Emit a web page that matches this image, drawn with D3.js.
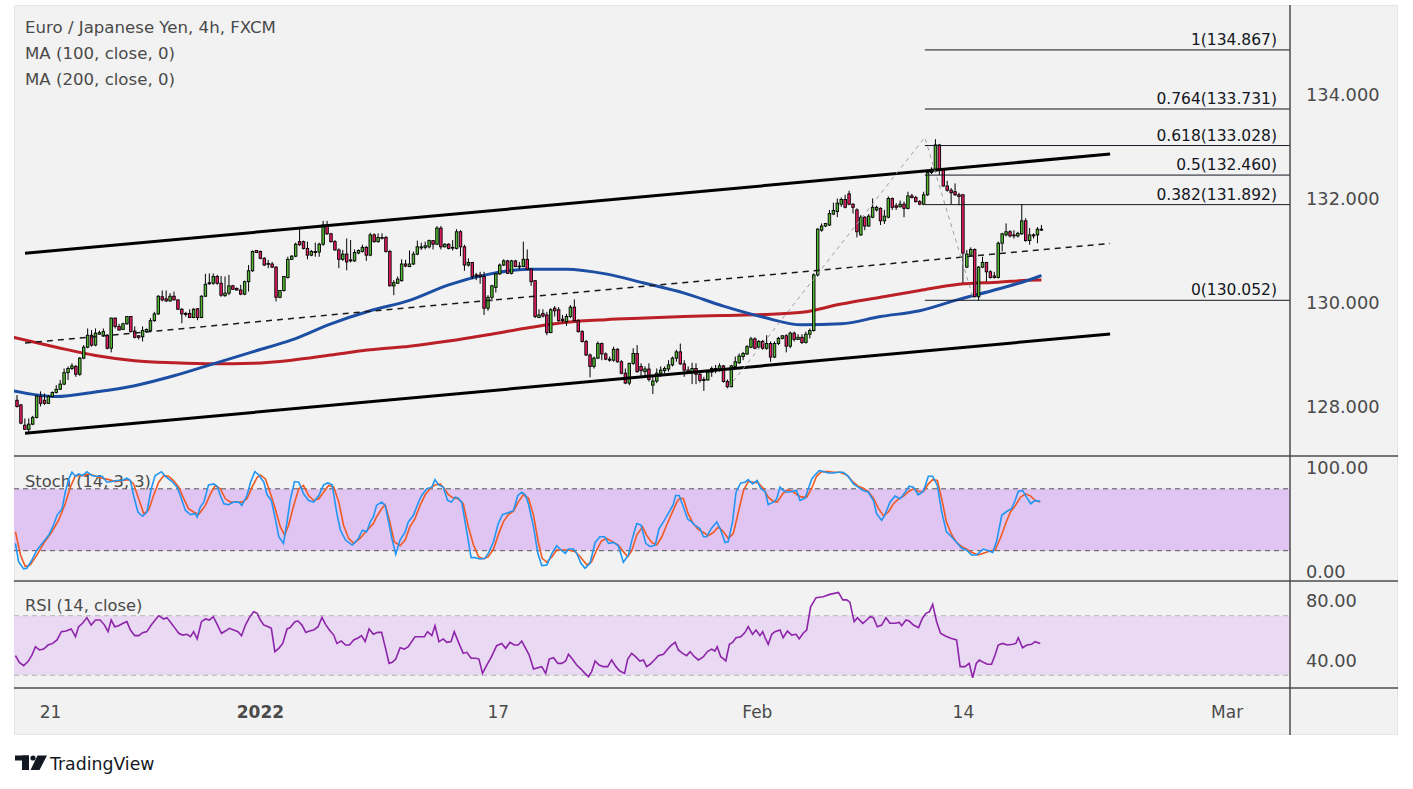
<!DOCTYPE html>
<html>
<head>
<meta charset="utf-8">
<script src="https://cdn.jsdelivr.net/npm/d3@7"></script>
<style>
	body { margin: 0; background: #ffffff; }
	svg { display: block; font-family: "DejaVu Sans", sans-serif; }
</style>
</head>
<body>
<svg id="chart" width="1413" height="789" viewBox="0 0 1413 789"></svg>
<script>

// 4h candles, bar 1 .. 262
const opens = [128.13,128.04,127.65,127.57,127.67,127.80,128.20,128.13,128.07,128.20,
	128.28,128.34,128.44,128.66,128.74,128.78,128.63,128.94,129.15,129.38,
	129.19,129.40,129.38,129.38,129.13,129.71,129.55,129.49,129.60,129.74,
	129.46,129.37,129.35,129.45,129.47,129.66,129.79,130.12,130.08,130.04,
	130.13,130.06,129.88,129.80,129.80,129.72,129.89,129.72,130.13,130.39,
	130.38,130.51,130.38,130.14,130.19,130.33,130.28,130.25,130.17,130.41,
	130.62,131.01,130.99,130.86,130.76,130.75,130.69,130.11,130.24,130.49,
	130.84,130.90,131.18,131.18,131.05,130.92,130.97,130.98,131.13,131.50,
	131.33,131.18,131.02,130.84,130.94,130.83,130.81,130.96,130.99,131.07,
	130.92,131.31,131.18,131.26,131.26,130.99,130.33,130.38,130.43,130.75,
	130.70,130.75,130.94,131.06,131.07,131.08,131.20,131.13,131.44,131.08,
	131.13,131.07,131.05,131.37,131.08,130.73,130.78,130.54,130.54,130.51,
	129.90,130.11,130.30,130.56,130.73,130.81,130.57,130.81,130.71,130.70,
	130.84,130.65,130.43,129.72,129.80,129.77,129.43,129.90,129.87,129.69,
	129.64,129.74,129.92,129.66,129.45,129.26,129.00,128.78,128.94,129.22,
	129.02,128.92,128.90,129.11,128.87,128.65,128.46,128.84,129.03,128.78,
	128.68,128.73,128.42,128.50,128.65,128.70,128.73,128.81,128.94,129.06,
	128.83,128.71,128.66,128.74,128.63,128.53,128.52,128.67,128.74,128.73,
	128.79,128.49,128.39,128.78,128.85,128.97,129.02,129.15,129.31,129.15,
	129.26,129.13,129.22,128.96,129.22,129.32,129.37,129.17,129.42,129.30,
	129.34,129.24,129.40,129.47,130.54,131.40,131.48,131.50,131.71,131.76,
	131.90,131.99,132.10,131.90,131.79,131.31,131.65,131.48,131.65,131.79,
	131.82,131.58,131.65,132.01,131.87,131.85,131.90,131.82,132.06,132.03,
	131.95,131.90,132.08,132.51,132.54,133.04,132.57,132.25,132.17,132.14,
	132.08,132.08,130.69,130.92,131.03,130.12,130.69,130.78,130.60,130.52,
	130.49,131.15,131.31,131.37,131.31,131.29,131.33,131.58,131.20,131.31,
	131.31,131.40];

const highs = [128.23,128.06,127.78,127.78,127.83,128.23,128.30,128.26,128.23,128.30,
	128.42,128.52,128.74,128.78,128.84,128.81,128.96,129.19,129.51,129.48,
	129.51,129.47,129.51,129.40,129.72,129.72,129.60,129.62,129.75,129.75,
	129.55,129.38,129.55,129.51,129.71,129.83,130.15,130.24,130.24,130.19,
	130.22,130.07,129.90,129.83,129.88,129.90,129.90,130.15,130.56,130.57,
	130.57,130.54,130.52,130.51,130.54,130.35,130.30,130.35,130.43,130.73,
	131.01,131.02,131.01,130.88,130.83,130.79,130.71,130.25,130.52,130.89,
	130.92,131.16,131.46,131.20,131.18,131.02,131.16,131.16,131.58,131.58,
	131.35,131.21,131.05,131.02,131.24,131.21,131.03,131.03,131.12,131.10,
	131.35,131.34,131.34,131.34,131.29,131.02,130.44,130.51,130.84,130.83,
	131.01,130.99,131.20,131.16,131.18,131.22,131.21,131.48,131.48,131.15,
	131.15,131.21,131.42,131.40,131.12,130.86,130.79,130.58,130.60,130.60,
	130.15,130.35,130.58,130.76,130.84,130.83,130.83,130.83,130.79,131.18,
	131.03,130.67,130.44,129.88,129.88,129.83,129.90,129.94,129.92,129.77,
	129.79,129.96,130.07,129.69,129.48,129.29,129.03,128.97,129.26,129.24,
	129.05,128.97,129.16,129.13,128.90,128.74,128.85,129.13,129.19,128.84,
	128.78,128.84,128.58,128.74,128.78,128.78,128.90,128.97,129.10,129.22,
	128.90,128.78,128.85,128.84,128.68,128.58,128.71,128.78,128.81,128.84,
	128.81,128.53,128.81,128.97,129.03,129.06,129.19,129.35,129.34,129.29,
	129.29,129.38,129.26,129.26,129.35,129.38,129.40,129.45,129.45,129.40,
	129.40,129.45,129.51,130.57,131.44,131.53,131.54,131.79,131.93,132.01,
	132.03,132.08,132.16,131.92,131.82,131.69,131.67,131.71,132.01,131.87,
	131.84,131.79,132.05,132.03,131.92,131.97,131.95,132.14,132.10,132.06,
	131.98,132.14,132.56,132.61,133.15,133.06,132.59,132.35,132.21,132.30,
	132.12,132.10,131.02,131.07,131.05,130.71,130.89,130.79,130.63,130.60,
	131.18,131.35,131.53,131.40,131.40,131.37,131.90,131.63,131.44,131.34,
	131.46,131.50];

const lows = [127.99,127.67,127.56,127.51,127.65,127.78,128.01,128.04,128.06,128.19,
	128.26,128.33,128.42,128.52,128.71,128.58,128.60,128.92,129.13,129.16,
	129.17,129.39,129.35,129.11,129.05,129.51,129.47,129.48,129.58,129.43,
	129.32,129.30,129.26,129.43,129.45,129.64,129.77,130.03,130.02,130.02,
	130.05,129.87,129.61,129.74,129.71,129.71,129.67,129.71,130.12,130.35,
	130.35,130.35,130.12,130.12,130.15,130.25,130.24,130.15,130.15,130.22,
	130.60,130.96,130.84,130.71,130.67,130.67,130.03,130.09,130.22,130.47,
	130.83,130.88,131.10,131.03,130.84,130.90,130.89,130.89,131.10,131.31,
	131.16,131.01,130.67,130.81,130.63,130.78,130.79,130.94,130.97,130.81,
	130.90,131.16,131.16,131.22,130.97,130.32,130.15,130.37,130.41,130.69,
	130.69,130.73,130.92,131.02,131.03,131.05,131.03,131.12,131.03,131.07,
	131.03,131.01,131.03,130.90,130.62,130.70,130.46,130.44,130.37,129.77,
	129.85,130.03,130.20,130.54,130.71,130.56,130.55,130.69,130.65,130.69,
	130.63,130.33,129.71,129.71,129.72,129.38,129.42,129.74,129.64,129.62,
	129.56,129.71,129.64,129.43,129.24,128.98,128.57,128.74,128.92,128.90,
	128.90,128.87,128.87,128.85,128.63,128.44,128.42,128.81,128.66,128.58,
	128.58,128.49,128.25,128.46,128.58,128.65,128.68,128.78,128.87,128.81,
	128.58,128.65,128.44,128.44,128.47,128.31,128.51,128.58,128.65,128.68,
	128.47,128.36,128.38,128.74,128.83,128.90,129.00,129.13,129.11,129.13,
	129.10,129.10,128.87,128.94,129.19,129.30,129.05,129.13,129.26,129.29,
	129.21,129.22,129.32,129.45,130.51,131.37,131.46,131.48,131.69,131.65,
	131.85,131.82,131.88,131.72,131.26,131.29,131.40,131.47,131.63,131.76,
	131.50,131.52,131.63,131.79,131.79,131.84,131.65,131.80,132.01,131.93,
	131.88,131.88,132.06,132.48,132.53,132.46,132.24,132.14,131.90,132.06,
	131.88,130.39,130.67,130.89,130.11,130.04,130.67,130.41,130.47,130.47,
	130.47,130.99,131.28,131.26,131.24,131.26,131.31,131.18,131.12,131.24,
	131.15,131.39];

const closes = [128.01,127.69,127.57,127.67,127.80,128.21,128.07,128.07,128.20,128.28,
	128.34,128.44,128.66,128.74,128.79,128.63,128.94,129.15,129.38,129.19,
	129.42,129.43,129.45,129.13,129.71,129.55,129.48,129.60,129.74,129.45,
	129.34,129.34,129.47,129.49,129.66,129.79,130.13,130.06,130.04,130.13,
	130.06,129.88,129.79,129.78,129.72,129.88,129.72,130.13,130.36,130.37,
	130.51,130.38,130.15,130.19,130.33,130.26,130.25,130.17,130.41,130.62,
	130.99,130.97,130.86,130.73,130.75,130.69,130.11,130.24,130.51,130.84,
	130.90,131.13,131.12,131.05,130.92,130.99,130.99,131.13,131.50,131.33,
	131.18,131.02,130.84,130.94,130.79,130.81,130.97,131.01,131.07,130.92,
	131.31,131.18,131.26,131.25,130.99,130.33,130.39,130.46,130.75,130.71,
	130.75,130.94,131.08,131.08,131.10,131.20,131.13,131.44,131.08,131.13,
	131.05,131.06,131.37,131.08,130.73,130.78,130.51,130.52,130.51,129.90,
	130.11,130.33,130.56,130.73,130.81,130.57,130.81,130.70,130.70,130.84,
	130.65,130.41,129.74,129.77,129.75,129.43,129.87,129.85,129.66,129.66,
	129.74,129.92,129.66,129.45,129.26,129.00,128.78,128.94,129.22,129.02,
	128.92,128.90,129.11,128.87,128.65,128.46,128.84,129.03,128.68,128.70,
	128.73,128.53,128.50,128.65,128.71,128.74,128.81,128.94,129.06,128.83,
	128.71,128.68,128.74,128.63,128.51,128.51,128.67,128.74,128.71,128.79,
	128.49,128.39,128.79,128.87,128.98,129.03,129.16,129.31,129.13,129.26,
	129.13,129.22,128.96,129.22,129.32,129.37,129.17,129.42,129.30,129.34,
	129.24,129.40,129.47,130.54,131.42,131.48,131.53,131.72,131.78,131.92,
	131.99,131.84,131.90,131.84,131.37,131.65,131.48,131.67,131.84,131.84,
	131.58,131.67,132.01,131.84,131.84,131.90,131.82,132.06,132.03,131.95,
	131.90,132.08,132.51,132.57,133.04,132.57,132.25,132.17,132.12,132.08,
	132.05,130.96,130.94,131.03,130.12,130.69,130.78,130.60,130.49,130.49,
	131.15,131.33,131.37,131.29,131.29,131.34,131.58,131.20,131.31,131.29,
	131.42,131.42];

// moving averages, sampled every 10 bars
const maBars = [0, 11, 21, 31, 41, 51, 61, 71, 81, 91, 101, 111, 121, 131, 141, 151, 161, 171, 181, 191, 201, 211, 221, 231, 241, 251, 261, 262];
const ma100 = [128.31, 128.20, 128.29, 128.41, 128.60, 128.83, 129.06, 129.29, 129.60, 129.85, 130.05, 130.35, 130.55, 130.65, 130.65, 130.56, 130.38, 130.19, 129.94, 129.73, 129.58, 129.60, 129.74, 129.85, 130.07, 130.27, 130.50, 130.53];
const ma200 = [129.34, 129.15, 128.99, 128.89, 128.85, 128.83, 128.84, 128.90, 129.00, 129.10, 129.17, 129.27, 129.39, 129.52, 129.63, 129.68, 129.71, 129.74, 129.76, 129.78, 129.82, 129.98, 130.11, 130.24, 130.36, 130.40, 130.44, 130.44];

// [bar, value]
const stochK = [[0.6,27.1],[1.4,9.4],[2.7,2.4],[3.5,3],[4.8,11],[6.1,20.7],[7.4,27.1],[9.1,35.1],[10.3,44.7],[11.2,54.3],[12.5,60.7],[13.3,76.7],[14.2,89.6],[15.0,96],[15.9,92.1],[16.7,94.4],[17.7,92.8],[18.8,96.6],[20.1,92.8],[21.4,92.1],[22.7,92.1],[23.9,86.4],[25.2,87],[26.5,88],[27.8,88],[29.0,90.2],[29.9,88],[30.7,73.5],[31.8,57.5],[33.0,53.4],[34.1,57.5],[35.2,80],[36.2,92.8],[37.8,96.6],[38.8,92.1],[40.5,87],[41.8,81.6],[42.6,73.5],[43.9,59.1],[45.2,55],[46.4,55.9],[46.9,52.7],[47.7,62.3],[48.6,67.1],[49.8,83.8],[51.1,84.8],[52.0,82.5],[52.8,73.5],[53.7,65.5],[54.9,64.6],[56.2,67.1],[57.5,67.1],[58.3,63.9],[59.6,73.5],[60.5,86.4],[61.6,96.6],[62.6,93.4],[63.9,86.4],[64.7,74.2],[65.8,68.7],[66.8,51.1],[67.7,33.5],[68.9,27.1],[69.8,47.9],[70.6,68.7],[71.7,87],[72.8,86.4],[74.0,75.1],[75.3,68.7],[76.6,67.1],[77.9,73.5],[79.1,83.8],[80.2,85.7],[81.3,83.8],[82.5,55.9],[83.4,39.9],[84.7,30.3],[86.4,25.5],
	[87.1,28],[88.0,31.9],[89.0,39.9],[90.1,38.3],[91.0,47.9],[91.8,52.7],[92.6,63.9],[93.9,67.1],[94.8,63.9],[95.6,49.5],[96.5,31.9],[97.5,16.5],[98.6,30.3],[99.9,38.3],[100.7,47.9],[102.0,54.3],[103.3,67.1],[104.1,73.5],[105.4,80],[106.7,81.6],[107.5,88.9],[108.4,83.8],[109.6,81.6],[110.7,68.7],[111.7,67.1],[112.6,71.9],[113.4,71],[114.3,67.1],[115.6,38.3],[116.7,13.3],[117.7,13.3],[119.0,12],[120.2,12.6],[121.1,17.5],[122.4,28.7],[123.6,46.3],[124.7,55],[126.2,56.9],[127.5,59.1],[128.6,73.5],[129.6,76.7],[130.5,74.2],[131.3,65.5],[132.6,43.1],[133.7,17.5],[134.7,5.6],[136.0,6.2],[137.3,17.5],[138.5,24.8],[139.6,20.7],[140.7,17.5],[141.5,21.6],[142.8,21.6],[143.6,17.5],[144.7,7.8],[145.7,3],[147.0,7.8],[148.3,28],[149.5,33.5],[150.7,33.5],[151.7,27.1],[153.0,28],[154.2,24.8],[155.5,8.8],[156.8,15.9],[157.6,29.3],[158.9,46.3],[160.0,44.7],[161.2,27.1],[162.3,23.9],[163.6,25.5],[164.6,41.5],[165.7,47.9],[166.9,55.9],[168.2,64.6],[168.8,73.5],[169.7,73.5],[170.8,62.3],[171.9,50.5],[172.9,47.9],[173.7,44.7],
	[175.0,41.5],[175.9,33.5],[176.7,33.5],[178.0,42.1],[179.3,47.9],[180.3,39.9],[181.4,28],[182.2,28.7],[183.3,47.9],[184.2,76.7],[185.4,85.7],[186.5,86.4],[187.3,88.9],[188.4,84.8],[189.6,88],[190.5,80],[191.6,77.4],[192.4,64.6],[193.7,67.1],[194.5,69.7],[195.4,81.6],[196.2,78.4],[197.3,76.7],[198.4,77.4],[199.6,78.4],[200.5,68.7],[201.8,71],[202.6,80],[203.5,89.6],[204.3,93.4],[205.4,97.6],[206.6,96.6],[207.7,95.3],[209.0,95.3],[210.3,96],[211.5,96],[212.8,92.1],[214.1,84.8],[215.3,81.6],[216.6,78.4],[217.9,76.7],[219.2,68.7],[220.0,55.9],[221.3,49.5],[222.1,54.3],[223.4,67.1],[224.7,72.9],[226.0,70.3],[227.2,76.1],[228.3,82.5],[229.4,81.6],[230.6,74.2],[231.9,77.4],[233.2,92.1],[234.3,92.1],[235.5,83.2],[236.6,57.5],[237.8,38.3],[239.1,33.5],[240.4,28],[241.7,22.3],[242.9,20.7],[244.2,15.9],[245.5,15.9],[247.2,21.6],[248.5,20],[249.6,18.4],[250.6,29.3],[251.9,54.3],[253.2,58.2],[254.4,60.7],[255.3,68.7],[256.1,77.4],[257.2,78.4],[258.2,71.9],[259.3,65.5],[260.4,68.7],[261.7,67.8]];

const stochD = [[0.6,38.3],[1.9,15.9],[3.1,4.6],[4.4,6.2],[6.1,15.9],[7.8,27.1],[9.9,38.3],[11.6,49.5],[13.3,65.5],[14.6,81.6],[15.9,92.8],[17.6,92.8],[19.3,94.4],[21.0,92.1],[22.7,90.2],[24.4,88.9],[26.1,87],[27.8,88],[29.5,88.9],[30.7,84.8],[32.0,70.3],[33.3,55.9],[34.5,59.1],[35.8,73.5],[37.1,86.4],[38.4,92.8],[39.6,92.1],[40.9,88],[42.2,81.6],[43.5,70.3],[44.7,60.7],[46.0,57.5],[47.3,55],[49.0,63.9],[50.3,75.1],[51.5,83.2],[52.8,80],[54.1,70.3],[55.4,67.1],[56.6,67.1],[58.3,67.1],[59.6,70.3],[60.9,81.6],[62.2,91.2],[63.0,93.4],[64.3,89.6],[65.6,75.1],[66.8,60.7],[68.1,43.1],[69.2,35.1],[70.2,44.7],[71.5,63.9],[72.8,80],[74.0,83.2],[75.3,73.5],[76.6,68.7],[77.9,70.3],[79.1,76.7],[80.4,83.2],[81.7,81.6],[83.0,67.1],[84.2,44.7],[85.5,31.9],[86.8,27.1],
	[88.4,31.9],[89.7,37.6],[91.0,43.1],[91.8,46.3],[92.6,52.7],[93.9,60.7],[94.8,64.6],[96.0,47.9],[97.1,28.7],[98.6,24.8],[99.9,30.3],[101.1,43.1],[102.4,51.1],[103.7,63.9],[105.0,74.2],[106.2,80],[107.5,83.8],[108.8,84.8],[109.9,80],[110.9,74.2],[112.2,71],[113.4,70.3],[114.7,65.5],[116.0,43.1],[117.3,25.5],[118.6,14.2],[119.8,12],[121.1,14.2],[122.4,21.6],[123.6,35.1],[124.9,47.9],[126.2,55],[127.5,58.2],[128.7,67.1],[130.0,74.2],[131.3,71],[132.6,54.3],[133.8,28.7],[134.8,12.6],[136.0,8.8],[137.3,14.2],[138.5,20.7],[139.8,20.7],[141.5,20.7],[143.2,19.1],[144.5,14.2],[146.2,6.2],[147.4,9.4],[148.7,20.7],[149.9,29.3],[151.2,31.9],[152.5,29.3],[154.2,25.5],[155.5,19.1],[156.6,14.2],[157.6,19.7],[158.9,35.1],[160.4,43.1],[161.4,35.1],[162.7,28],[164.0,25.5],[165.3,33.5],[166.5,44.7],[167.8,55.9],[169.1,67.1],[169.9,71],[170.8,70.3],[172.0,55.9],[173.3,46.3],[174.5,40.8],
	[176.3,36.7],[177.1,34.4],[178.4,37.6],[179.7,43.1],[180.9,38.9],[182.2,31.9],[183.5,36.7],[184.8,57.5],[186.1,78.4],[187.3,87],[188.6,86.4],[189.9,85.7],[191.2,80],[192.4,71.9],[193.7,67.8],[194.7,67.1],[196.1,75.1],[197.3,79],[198.6,77.4],[199.8,74.2],[200.9,71.9],[202.2,71.9],[203.5,80.6],[204.7,92.1],[206.0,96.6],[207.7,96.6],[209.0,96],[210.7,96],[212.4,93.4],[213.9,87],[215.3,82.5],[216.6,80.6],[217.9,77.4],[219.2,71],[220.5,60.7],[221.8,53.7],[223.0,57.5],[224.3,65.5],[225.6,70.3],[226.9,72.9],[228.2,77.4],[229.4,80],[230.7,77.4],[232.0,77.4],[233.2,84.8],[234.3,88.9],[235.5,88],[236.6,70.3],[237.8,47.9],[239.1,35.7],[240.4,28],[241.7,23.9],[242.9,21.6],[244.2,18.4],[245.9,15.9],[247.2,17.5],[248.9,19.7],[250.2,20.7],[251.6,32.5],[252.9,46.3],[254.1,57.5],[255.4,63.9],[256.7,71.9],[258.0,75.1],[259.3,72.9],[260.4,68.7],[261.7,67.1]];

const rsi = [[0.6,43.2],[1.6,38.7],[2.7,36.5],[3.8,39.2],[4.8,43.6],[5.7,49.2],[6.7,47],[7.8,47.6],[8.9,50.3],[10.1,51.4],[11.2,53.7],[12.3,59.3],[13.5,59.7],[14.8,61.1],[15.9,55.9],[16.7,62.6],[17.7,64.9],[18.8,68.7],[19.9,63.7],[21.0,67.1],[22.2,67.1],[23.3,63.7],[24.2,59.3],[25.0,67.1],[25.9,62.6],[26.9,63.3],[28.0,64.9],[29.0,66],[29.9,60.4],[31.0,56.6],[32.0,56.6],[33.0,58.6],[34.1,59.3],[35.2,63.7],[36.2,67.1],[37.1,70],[38.4,67.8],[39.2,68.7],[40.3,64.9],[41.3,61.5],[42.2,58.2],[43.2,57],[44.3,57.5],[45.2,55.9],[46.0,59.3],[46.9,54.4],[48.0,66],[49.0,67.8],[50.0,67.1],[51.0,69.3],[52.0,64.2],[53.1,58.2],[54.1,59.7],[55.1,61.5],[56.2,60.4],[57.3,59.3],[58.2,56.6],[59.2,63.7],[60.2,68.7],[61.3,72.7],[62.2,71.6],[63.0,67.1],[63.9,63.7],[65.0,62.6],[65.8,61.5],[66.7,45.9],[67.7,48.1],[68.7,51.4],[69.8,61.1],[70.6,62],[71.8,66],[72.6,66.4],[73.6,63.7],[74.6,58.8],[75.5,59.7],[76.6,60.4],[77.7,62.6],[78.7,68.9],[79.6,64.2],[80.6,60.4],[81.7,57],[82.5,51.4],[83.6,53],[84.7,50.3],[85.7,50.3],[86.8,53.7],
	[88.0,55.2],[88.8,56.6],[89.7,52.6],[90.7,61.1],[91.8,57.5],[92.9,58.8],[93.9,58.8],[94.9,48.1],[95.8,38],[96.6,38.7],[97.5,40.9],[98.6,48.5],[99.7,47.6],[100.7,49.2],[102.4,55.9],[103.7,55.9],[104.8,55.9],[105.6,59.3],[106.7,56.6],[107.5,63.3],[108.5,52.6],[109.6,54.4],[110.5,52.1],[111.6,52.6],[112.4,59.3],[113.6,51.4],[114.7,44.7],[115.6,45.4],[116.7,41.4],[117.9,41.4],[118.7,40.9],[119.6,31.3],[120.7,36.9],[121.9,42.5],[123.2,49.9],[124.5,51.4],[125.5,48.1],[126.6,52.1],[127.7,50.3],[128.7,50.3],[129.6,53],[130.6,48.1],[131.5,43.6],[132.6,34.2],[133.7,35.1],[134.7,35.8],[135.7,31.3],[136.6,40.9],[137.7,41.8],[138.8,38],[139.8,38],[140.8,39.6],[141.5,44.1],[142.5,40.9],[143.6,36.9],[144.7,34.2],[145.7,31.3],[146.6,29.1],[147.4,32.5],[148.3,39.6],[149.3,36.9],[150.4,35.8],[151.5,35.8],[152.5,40.3],[153.6,35.8],[154.6,32.9],[155.8,31.3],[156.6,40.9],[157.6,44.7],[158.6,42.5],[159.7,39.6],[160.6,40.3],[161.4,35.8],[162.3,37.4],[163.4,40.3],[164.4,43.2],[165.7,44.1],[166.8,47.6],[167.6,49.9],[168.7,52.1],[169.5,47],[170.6,44.7],[171.6,43.2],[172.5,45.9],[173.6,42.5],[174.6,40.3],
	[175.0,40.9],[175.9,42.5],[176.9,45.9],[178.0,47.6],[178.8,46.3],[179.4,49.2],[180.3,42.5],[181.1,40.9],[181.6,39.6],[182.5,50.8],[183.3,52.1],[184.2,55.2],[185.4,55.9],[186.5,58.8],[187.3,62.6],[188.4,57.5],[189.3,60.4],[190.3,56.6],[191.0,59.3],[191.6,55.2],[192.4,50.8],[193.3,57.5],[194.1,59.3],[195.4,60.4],[196.2,55.2],[197.3,59.7],[198.4,57],[199.5,57.5],[200.3,54.4],[201.3,58.2],[202.2,60.4],[203.2,76],[204.6,82.1],[206.4,82.7],[208.1,84.3],[210.3,85.6],[211.4,80.6],[212.4,80.6],[213.2,79.1],[214.3,66],[215.1,68.7],[216.5,64.9],[217.5,67.1],[218.4,69.3],[219.2,68.7],[220.2,62.6],[221.3,63.7],[222.4,68.7],[223.4,64.9],[224.7,64.9],[225.8,65.5],[226.4,63.3],[227.5,67.1],[228.3,66.4],[229.4,63.7],[230.7,62],[231.7,68.3],[232.6,71.6],[233.5,72.7],[234.3,77.6],[235.3,66],[236.3,58.2],[237.4,56.6],[238.9,54.8],[240.4,53.7],[241.3,35.8],[242.5,35.8],[243.6,38],[244.5,28.4],[245.4,38],[246.2,40.3],[247.2,38.7],[248.2,37.4],[249.3,37.4],[250.2,43.6],[251.0,50.3],[252.1,51.4],[253.3,50.3],[254.7,50.8],[255.5,51.4],[256.1,55.2],[257.2,48.5],[258.3,50.3],[259.5,50.8],[260.4,52.6],[261.7,51.4]];

// drawings: [bar, price]
const channelTop = [[3.04, 130.956], [279.5, 132.865]];
const channelBottom = [[3.04, 127.494], [279.5, 129.404]];
const channelMid = [[3.04, 129.231], [279.5, 131.144]];
const fibPoints = [[182.2, 128.37], [232.3, 133.185], [244.8, 130.052]];
const fibRatios = ["1", "0.764", "0.618", "0.5", "0.382", "0"];
const fibLevels = [134.867, 133.731, 133.028, 132.460, 131.892, 130.052];

// axes
const priceTicks = [128, 130, 132, 134];
const stochTicks = [0, 100];
const rsiTicks = [40, 80];
const timeTickBars = [9.4, 62.9, 123.5, 189.5, 242, 309.2];
const timeLabels = ["21", "2022", "17", "Feb", "14", "Mar"];
const legendLines = ["Euro / Japanese Yen, 4h, FXCM", "MA (100, close, 0)", "MA (200, close, 0)"];


function drawChart(svg_element_id) {
	const svg = d3.select('#' + svg_element_id);

	const left = 14, plotRight = 1290, right = 1398;
	const top = 5, mainBottom = 456, stochBottom = 581, rsiBottom = 688, bottom = 735;
	const textColor = "#4a4a4a";
	const sepColor = "#4d4d4d";

	const x = d3.scaleLinear().domain([1, 262]).range([17, 1041.4]);
	const yMain = d3.scaleLinear().domain([128, 134]).range([407, 95]);
	const yStoch = d3.scaleLinear().domain([20, 80]).range([550.7, 488.8]);
	const yRsi = d3.scaleLinear().domain([30, 70]).range([675.3, 615.7]);

	// frame
	svg.append("rect")
		.attr("x", left + 0.5).attr("y", top + 0.5)
		.attr("width", right - left - 1).attr("height", bottom - top - 1)
		.attr("fill", "#f2f2f2")
		.attr("stroke", "#e3e5ec");

	const defs = svg.append("defs");
	const clips = [["clip-main", top, mainBottom], ["clip-stoch", mainBottom, stochBottom], ["clip-rsi", stochBottom, rsiBottom]];
	clips.forEach(c => {
		defs.append("clipPath").attr("id", c[0])
			.append("rect")
			.attr("x", left).attr("y", c[1])
			.attr("width", plotRight - left).attr("height", c[2] - c[1]);
	});

	// ---------- main pane ----------
	const main = svg.append("g").attr("clip-path", "url(#clip-main)");

	const maLine = (values) => d3.line()
		.x((d, i) => x(maBars[i]))
		.y(d => yMain(d))
		.curve(d3.curveMonotoneX)(values);

	main.append("path")
		.attr("d", maLine(ma200))
		.attr("fill", "none")
		.attr("stroke", "#bb2027")
		.attr("stroke-width", 3);

	main.append("path")
		.attr("d", maLine(ma100))
		.attr("fill", "none")
		.attr("stroke", "#1c4fa3")
		.attr("stroke-width", 3);

	const candles = closes.map((c, i) => ({bar: i + 1, o: opens[i], h: highs[i], l: lows[i], c: c}));

	const candle_g = main.selectAll(".candle")
		.data(candles)
		.enter()
		.append("g")
		.classed("candle", true);

	candle_g.append("line")
		.attr("x1", d => x(d.bar)).attr("x2", d => x(d.bar))
		.attr("y1", d => yMain(d.h)).attr("y2", d => yMain(d.l))
		.attr("stroke", "#000")
		.attr("stroke-width", 1);

	candle_g.append("rect")
		.attr("x", d => x(d.bar) - 1.25)
		.attr("width", 2.5)
		.attr("y", d => yMain(Math.max(d.o, d.c)))
		.attr("height", d => Math.max(0.8, Math.abs(yMain(d.o) - yMain(d.c))))
		.attr("fill", d => d.c >= d.o ? "#53b933" : "#e91e63")
		.attr("stroke", "#000")
		.attr("stroke-width", 0.9);

	// fib extension
	const fib_g = svg.append("g");
	fib_g.append("path")
		.attr("d", d3.line().x(d => x(d[0])).y(d => yMain(d[1]))(fibPoints))
		.attr("fill", "none")
		.attr("stroke", "#9e9e9e")
		.attr("stroke-width", 1)
		.attr("stroke-dasharray", "4,4");

	fib_g.selectAll(".fib-line")
		.data(fibLevels)
		.enter()
		.append("line")
		.classed("fib-line", true)
		.attr("x1", x(fibPoints[1][0])).attr("x2", plotRight)
		.attr("y1", d => yMain(d)).attr("y2", d => yMain(d))
		.attr("stroke", "#131722")
		.attr("stroke-width", 1);

	fib_g.selectAll(".fib-label")
		.data(fibLevels)
		.enter()
		.append("text")
		.classed("fib-label", true)
		.attr("x", 1277)
		.attr("y", d => yMain(d) - 5)
		.attr("text-anchor", "end")
		.attr("font-size", "15.5px")
		.attr("fill", "#131722")
		.text((d, i) => fibRatios[i] + "(" + d.toFixed(3) + ")");

	// channel
	const drawLine = d3.line().x(d => x(d[0])).y(d => yMain(d[1]));
	main.append("path").attr("d", drawLine(channelTop))
		.attr("stroke", "#000").attr("stroke-width", 3);
	main.append("path").attr("d", drawLine(channelBottom))
		.attr("stroke", "#000").attr("stroke-width", 3);
	main.append("path").attr("d", drawLine(channelMid))
		.attr("stroke", "#1a1a1a").attr("stroke-width", 1.5)
		.attr("stroke-dasharray", "6,5");

	// legend
	svg.selectAll(".legend")
		.data(legendLines)
		.enter()
		.append("text")
		.classed("legend", true)
		.attr("x", 25)
		.attr("y", (d, i) => 33 + i * 26)
		.attr("font-size", "16.6px")
		.attr("fill", textColor)
		.text(d => d);

	// ---------- stochastic ----------
	const stoch = svg.append("g").attr("clip-path", "url(#clip-stoch)");
	stoch.append("rect")
		.attr("x", left).attr("width", plotRight - left)
		.attr("y", yStoch(80)).attr("height", yStoch(20) - yStoch(80))
		.attr("fill", "#e0c5f3");
	[80, 20].forEach(v => {
		stoch.append("line")
			.attr("x1", left).attr("x2", plotRight)
			.attr("y1", yStoch(v)).attr("y2", yStoch(v))
			.attr("stroke", "#555").attr("stroke-width", 1)
			.attr("stroke-dasharray", "5,4");
	});
	stoch.append("text")
		.attr("x", 25).attr("y", 487)
		.attr("font-size", "16.3px")
		.attr("fill", textColor)
		.text("Stoch (14, 3, 3)");

	const stochLine = d3.line().x(d => x(d[0])).y(d => yStoch(d[1]));
	stoch.append("path").attr("d", stochLine(stochD))
		.attr("fill", "none").attr("stroke", "#f05a22").attr("stroke-width", 1.6);
	stoch.append("path").attr("d", stochLine(stochK))
		.attr("fill", "none").attr("stroke", "#2196f3").attr("stroke-width", 1.6);

	// ---------- RSI ----------
	const rsi_g = svg.append("g").attr("clip-path", "url(#clip-rsi)");
	rsi_g.append("rect")
		.attr("x", left).attr("width", plotRight - left)
		.attr("y", yRsi(70)).attr("height", yRsi(30) - yRsi(70))
		.attr("fill", "#e9d9f3");
	[70, 30].forEach(v => {
		rsi_g.append("line")
			.attr("x1", left).attr("x2", plotRight)
			.attr("y1", yRsi(v)).attr("y2", yRsi(v))
			.attr("stroke", "#b4b4b4").attr("stroke-width", 1)
			.attr("stroke-dasharray", "5,4");
	});
	rsi_g.append("text")
		.attr("x", 25).attr("y", 611)
		.attr("font-size", "16.3px")
		.attr("fill", textColor)
		.text("RSI (14, close)");
	rsi_g.append("path")
		.attr("d", d3.line().x(d => x(d[0])).y(d => yRsi(d[1]))(rsi))
		.attr("fill", "none").attr("stroke", "#8e24aa").attr("stroke-width", 1.6);

	// ---------- axes ----------
	const styleAxis = (g, size) => {
		g.select(".domain").remove();
		g.attr("font-family", null).attr("font-size", null);
		g.selectAll("text").attr("fill", textColor).attr("font-size", size);
	};

	svg.append("g")
		.attr("transform", "translate(" + plotRight + ",0)")
		.call(d3.axisRight(yMain).tickValues(priceTicks).tickSize(0).tickPadding(16).tickFormat(d3.format(".3f")))
		.call(g => styleAxis(g, "17.8px"));

	svg.append("g")
		.attr("transform", "translate(" + plotRight + ",0)")
		.call(d3.axisRight(d3.scaleLinear().domain([0, 100]).range([yStoch(0), yStoch(100)])).tickValues(stochTicks).tickSize(0).tickPadding(16).tickFormat(d3.format(".2f")))
		.call(g => styleAxis(g, "17.8px"));

	svg.append("g")
		.attr("transform", "translate(" + plotRight + ",0)")
		.call(d3.axisRight(yRsi).tickValues(rsiTicks).tickSize(0).tickPadding(16).tickFormat(d3.format(".2f")))
		.call(g => styleAxis(g, "17.8px"));

	const time_g = svg.append("g")
		.attr("transform", "translate(0,706)")
		.call(d3.axisBottom(x).tickValues(timeTickBars).tickSize(0).tickPadding(0).tickFormat((d, i) => timeLabels[i]))
		.call(g => styleAxis(g, "17px"));
	time_g.selectAll("text")
		.filter(d => d === timeTickBars[1])
		.attr("font-weight", "bold");

	// pane separators
	[mainBottom, stochBottom, rsiBottom].forEach(yy => {
		svg.append("line")
			.attr("x1", left).attr("x2", right)
			.attr("y1", yy).attr("y2", yy)
			.attr("stroke", sepColor).attr("stroke-width", 1.5);
	});
	svg.append("line")
		.attr("x1", plotRight).attr("x2", plotRight)
		.attr("y1", top).attr("y2", bottom)
		.attr("stroke", sepColor).attr("stroke-width", 1.5);

	// footer logo
	const logo = svg.append("g").attr("fill", "#131722");
	logo.append("rect").attr("x", 15).attr("y", 755.5).attr("width", 14).attr("height", 5);
	logo.append("rect").attr("x", 22).attr("y", 755.5).attr("width", 7).attr("height", 14.5);
	logo.append("circle").attr("cx", 33).attr("cy", 758).attr("r", 2.6);
	logo.append("path").attr("d", "M37.5,755.5 L47,755.5 L39.5,770 L30.5,770 Z");
	svg.append("text")
		.attr("x", 50).attr("y", 769.5)
		.attr("font-size", "17.3px")
		.attr("fill", "#131722")
		.text("TradingView");
}

function whenDocumentLoaded(action) {
	if (document.readyState === "loading") {
		document.addEventListener("DOMContentLoaded", action);
	} else {
		action();
	}
}

whenDocumentLoaded(() => {
	drawChart('chart');
});
</script>
</body>
</html>
